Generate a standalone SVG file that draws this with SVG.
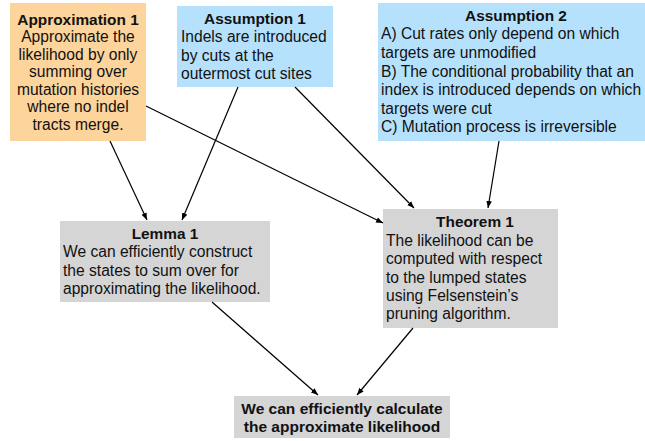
<svg xmlns="http://www.w3.org/2000/svg" width="645" height="441" viewBox="0 0 645 441">
<defs>
<style>
text{font-family:"Liberation Sans",Arial,sans-serif;font-size:15.6px;fill:#111}
.b{font-weight:bold;font-size:15.4px}
.c{text-anchor:middle}
.e{stroke:#000;stroke-width:1.2;fill:none;marker-end:url(#ah)}
.or{fill:#FDD49B}
.bl{fill:#B6E1FD}
.gr{fill:#D5D5D5}
</style>
<marker id="ah" viewBox="0 0 10 10" refX="10" refY="5" markerWidth="7" markerHeight="7" markerUnits="userSpaceOnUse" orient="auto">
<path d="M0,1 L10,5 L0,9 Z" fill="#000"/>
</marker>
</defs>
<rect width="645" height="441" fill="#fff"/>
<g id="approx1">
<rect class="or" x="10" y="3" width="136" height="138"/>
<text class="c" x="78"><tspan class="b" x="78" y="25">Approximation 1</tspan><tspan x="78" y="42">Approximate the</tspan><tspan x="78" y="60">likelihood by only</tspan><tspan x="78" y="77">summing over</tspan><tspan x="78" y="95">mutation histories</tspan><tspan x="78" y="112">where no indel</tspan><tspan x="78" y="130">tracts merge.</tspan></text>
</g>
<g id="assump1">
<rect class="bl" x="177" y="6" width="156" height="81"/>
<text class="b c" x="255" y="24">Assumption 1</text>
<text x="181" y="42">Indels are introduced</text>
<text x="181" y="61">by cuts at the</text>
<text x="181" y="79">outermost cut sites</text>
</g>
<g id="assump2">
<rect class="bl" x="378" y="3" width="270" height="138"/>
<text class="b c" x="516" y="21">Assumption 2</text>
<text x="381" y="39">A) Cut rates only depend on which</text>
<text x="381" y="58">targets are unmodified</text>
<text x="381" y="77">B) The conditional probability that an</text>
<text x="381" y="95">index is introduced depends on which</text>
<text x="381" y="114">targets were cut</text>
<text x="381" y="132">C) Mutation process is irreversible</text>
</g>
<g id="lemma1">
<rect class="gr" x="60" y="221" width="210" height="81"/>
<text class="b c" x="165" y="239">Lemma 1</text>
<text x="63" y="257">We can efficiently construct</text>
<text x="63" y="276">the states to sum over for</text>
<text x="63" y="294">approximating the likelihood.</text>
</g>
<g id="theorem1">
<rect class="gr" x="383" y="209" width="175" height="119"/>
<text class="b c" x="475" y="227">Theorem 1</text>
<text x="386" y="246">The likelihood can be</text>
<text x="386" y="264">computed with respect</text>
<text x="386" y="283">to the lumped states</text>
<text x="386" y="301">using Felsenstein’s</text>
<text x="386" y="319">pruning algorithm.</text>
</g>
<g id="result">
<rect class="gr" x="234" y="396" width="216" height="42"/>
<text class="b c" x="342" y="414" style="font-size:15.5px">We can efficiently calculate</text>
<text class="b c" x="342" y="432" style="font-size:15.5px">the approximate likelihood</text>
</g>
<g id="connectors">
<line class="e" x1="110" y1="141" x2="147" y2="220"/>
<line class="e" x1="238" y1="87" x2="182" y2="220"/>
<line class="e" x1="146" y1="106" x2="383" y2="223"/>
<line class="e" x1="295" y1="87" x2="414" y2="208"/>
<line class="e" x1="499" y1="141" x2="488" y2="208"/>
<line class="e" x1="212" y1="302" x2="318" y2="395"/>
<line class="e" x1="413" y1="328" x2="357" y2="395"/>
</g>
</svg>
